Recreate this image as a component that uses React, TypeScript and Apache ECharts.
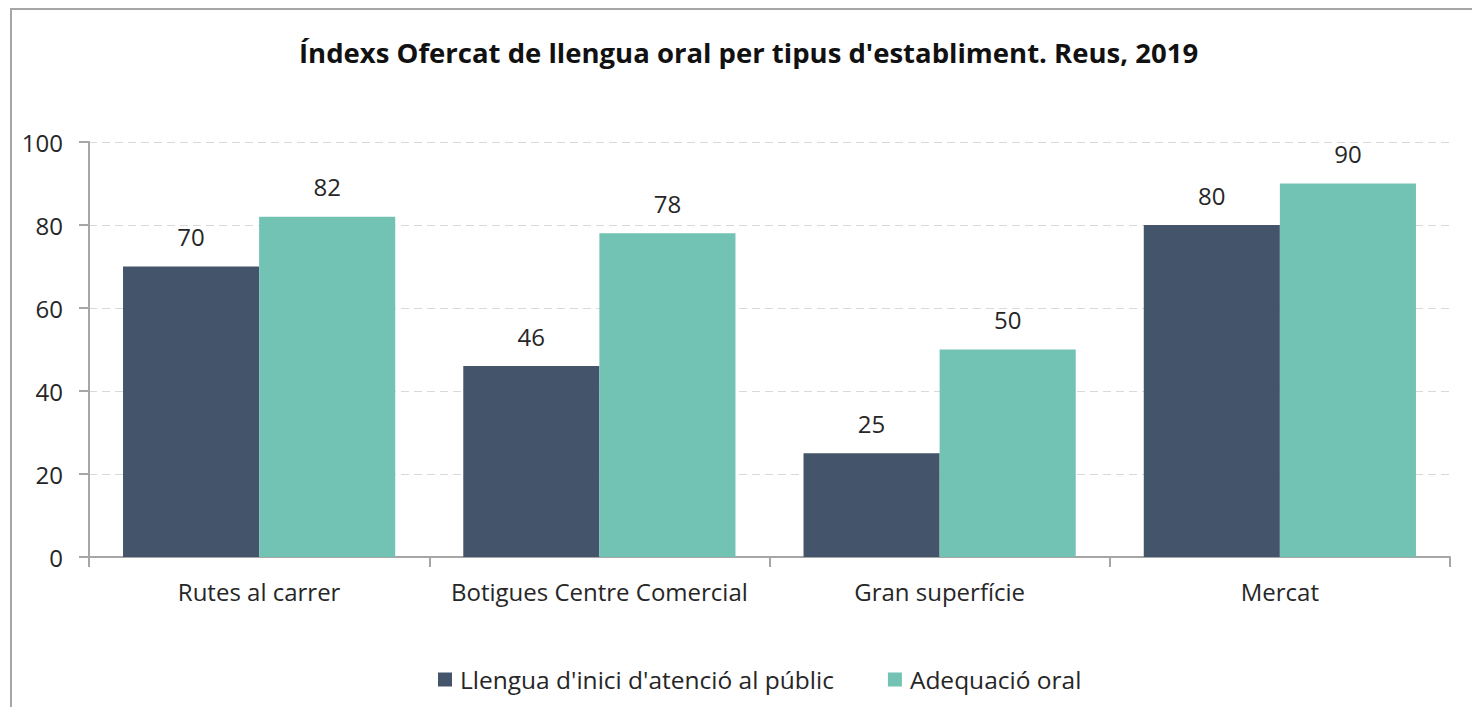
import React, { useEffect, useRef } from "react";
import * as echarts from "echarts";

const categories = ["Rutes al carrer", "Botigues Centre Comercial", "Gran superfície", "Mercat"];
const inici = [70, 46, 25, 80];
const adequacio = [82, 78, 50, 90];
const seriesNames = ["Llengua d'inici d'atenció al públic", "Adequació oral"];
const titleText = "Índexs Ofercat de llengua oral per tipus d'establiment. Reus, 2019";

const FONT = "'Open Sans', 'Noto Sans', sans-serif";
const TXT = "#262626";

export default function App() {
  const ref = useRef<HTMLDivElement>(null);
  useEffect(() => {
    document.body.style.margin = "0";
    const chart = echarts.init(ref.current!, null, { renderer: "svg" });
    const label = {
      show: true,
      position: "top",
      distance: 18,
      fontSize: 24,
      fontFamily: FONT,
      color: TXT,
    };
    chart.setOption({
      animation: false,
      backgroundColor: "#fff",
      title: {
        text: titleText,
        left: 294,
        top: 33,
        textStyle: { fontSize: 27.5, fontWeight: "bold", fontFamily: FONT, color: "#111" },
      },
      graphic: [
        {
          type: "rect",
          shape: { x: 11, y: 9, width: 1500, height: 760 },
          style: { fill: "none", stroke: "#A6A6A6", lineWidth: 2 },
          silent: true,
          z: 100,
        },
      ],
      legend: {
        left: 433,
        top: 662,
        itemWidth: 14,
        itemHeight: 14,
        itemGap: 54,
        icon: "rect",
        textStyle: { fontSize: 24.5, fontFamily: FONT, color: TXT, padding: [0, 0, 0, 3] },
        data: seriesNames,
      },
      grid: { left: 89, right: 22, top: 142, bottom: 150, containLabel: false },
      xAxis: {
        type: "category",
        data: categories,
        axisLine: { lineStyle: { color: "#A6A6A6", width: 2 } },
        axisTick: { show: true, length: 10, lineStyle: { color: "#A6A6A6", width: 2 } },
        axisLabel: { fontSize: 24, fontFamily: FONT, color: TXT, margin: 22, interval: 0 },
      },
      yAxis: {
        type: "value",
        min: 0,
        max: 100,
        interval: 20,
        axisLine: { show: true, lineStyle: { color: "#A6A6A6", width: 2 } },
        axisTick: { show: true, inside: false, length: 10, lineStyle: { color: "#A6A6A6", width: 2 } },
        axisLabel: { fontSize: 24, fontFamily: FONT, color: TXT, margin: 26 },
        splitLine: { lineStyle: { color: "#D9D9D9", type: [8, 5], width: 1 } },
      },
      series: [
        {
          name: seriesNames[0],
          type: "bar",
          data: inici,
          barGap: "0%",
          barCategoryGap: "20%",
          itemStyle: { color: "#44546A" },
          label,
        },
        {
          name: seriesNames[1],
          type: "bar",
          data: adequacio,
          barGap: "0%",
          barCategoryGap: "20%",
          itemStyle: { color: "#72C3B3" },
          label,
        },
      ],
    });
    return () => chart.dispose();
  }, []);
  return <div ref={ref} style={{ width: 1472, height: 707, position: "absolute", left: 0, top: 0 }} />;
}
